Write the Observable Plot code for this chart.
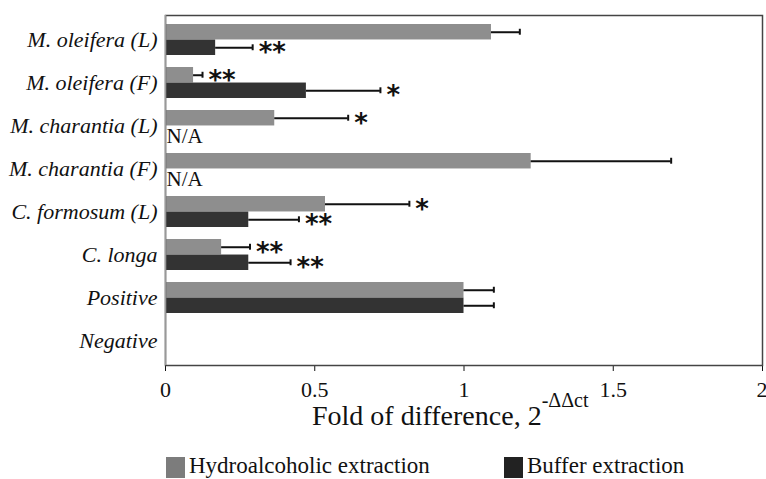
<!DOCTYPE html>
<html>
<head>
<meta charset="utf-8">
<script src="https://cdn.jsdelivr.net/npm/d3@7"></script>
<script src="https://cdn.jsdelivr.net/npm/@observablehq/plot@0.6"></script>
<style>
  html, body { margin: 0; padding: 0; background: #fff; }
  #chart svg { display: block; }
  [aria-label^="y-axis"] text { font-style: italic; font-size: 22px; fill: #111; }
  [aria-label^="x-axis"] text { font-size: 22px; fill: #111; }
  #legend { position: relative; height: 39px; width: 766px; font-family: "Liberation Serif", "Times New Roman", serif; font-size: 23px; line-height: 23px; color: #111; }
  .sw { position: absolute; top: 17px; width: 19px; height: 21px; }
  .lt { position: absolute; top: 14px; white-space: nowrap; }
</style>
</head>
<body>
<div id="chart"></div>
<div id="legend">
  <div class="sw" style="left:166px;background:#7c7c7c"></div><span class="lt" style="left:189px">Hydroalcoholic extraction</span>
  <div class="sw" style="left:504px;background:#222"></div><span class="lt" style="left:527px">Buffer extraction</span>
</div>
<script>
const categories = ["M. oleifera (L)", "M. oleifera (F)", "M. charantia (L)", "M. charantia (F)", "C. formosum (L)", "C. longa", "Positive", "Negative"];
const hydro     = [1.092, 0.094, 0.366, 1.225, 0.536, 0.188, 1.0, 0];
const hydroErr  = [0.095, 0.030, 0.246, 0.469, 0.281, 0.095, 0.10, null];
const buffer    = [0.168, 0.472, null, null, 0.279, 0.279, 1.0, 0];
const bufferErr = [0.124, 0.248, null, null, 0.168, 0.140, 0.10, null];
const hydroSig  = ["", "**", "*", "", "*", "**", "", ""];
const bufferSig = ["**", "*", "", "", "**", "**", "", ""];
const xTicks = [0, 0.5, 1, 1.5, 2];

const rows = categories.map((c, i) => ({
  cat: c, hydro: hydro[i], hydroErr: hydroErr[i], buffer: buffer[i], bufferErr: bufferErr[i],
  hydroSig: hydroSig[i], bufferSig: bufferSig[i]
}));

const W = 766, H = 440, mt = 15, mb = 75, ml = 165, mr = 4;
const pin = 0.29;
const step = (H - mt - mb) / categories.length;
const half = step * (1 - pin) / 2;
const q = half / 2;

const hErr = rows.filter(d => d.hydroErr != null);
const bErr = rows.filter(d => d.bufferErr != null);
const serif = "Liberation Serif";

const chart = Plot.plot({
  width: W, height: H,
  marginTop: mt, marginBottom: mb, marginLeft: ml, marginRight: mr,
  style: { fontFamily: "'Liberation Serif', 'Times New Roman', serif", fontSize: "22px", color: "#111", background: "#fff" },
  x: { domain: [0, 2], ticks: xTicks, tickFormat: d => String(d), tickSize: 6, tickPadding: 10, label: null },
  y: { domain: categories, paddingInner: pin, paddingOuter: pin / 2, tickSize: 0, tickPadding: 8, label: null },
  marks: [
    Plot.barX(rows, { y: "cat", x: "hydro", fill: "#8e8e8e", insetBottom: half }),
    Plot.barX(rows.filter(d => d.buffer != null), { y: "cat", x: "buffer", fill: "#333333", insetTop: half }),
    Plot.ruleY(hErr, { y: "cat", x1: "hydro", x2: d => d.hydro + d.hydroErr, dy: -q, stroke: "#111", strokeWidth: 2 }),
    Plot.ruleY(bErr, { y: "cat", x1: "buffer", x2: d => d.buffer + d.bufferErr, dy: q, stroke: "#111", strokeWidth: 2 }),
    Plot.tickX(hErr, { y: "cat", x: d => d.hydro + d.hydroErr, insetTop: q - 3, insetBottom: 3 * q - 3, stroke: "#111", strokeWidth: 2 }),
    Plot.tickX(bErr, { y: "cat", x: d => d.buffer + d.bufferErr, insetTop: 3 * q - 3, insetBottom: q - 3, stroke: "#111", strokeWidth: 2 }),
    Plot.text(hErr.filter(d => d.hydroSig), { y: "cat", x: d => d.hydro + d.hydroErr, text: "hydroSig", dx: 6, dy: -q + 5, textAnchor: "start", fontSize: 26, fontWeight: "bold", fontFamily: "DejaVu Sans", fill: "#111" }),
    Plot.text(bErr.filter(d => d.bufferSig), { y: "cat", x: d => d.buffer + d.bufferErr, text: "bufferSig", dx: 6, dy: q + 5, textAnchor: "start", fontSize: 26, fontWeight: "bold", fontFamily: "DejaVu Sans", fill: "#111" }),
    Plot.text(rows.filter(d => d.buffer == null), { y: "cat", x: 0, text: () => "N/A", dx: 1, dy: q + 2, textAnchor: "start", fontSize: 21, fontFamily: serif, fill: "#111" }),
    Plot.frame({ stroke: "#444", strokeWidth: 1.5 }),
    Plot.ruleX([0], { stroke: "#999", strokeWidth: 1.5 })
  ]
});

document.getElementById("chart").appendChild(chart);

const svg = d3.select(chart);
// keep the last x tick label inside the picture
const xLabels = svg.selectAll('[aria-label^="x-axis"] text').nodes();
if (xLabels.length) d3.select(xLabels[xLabels.length - 1]).attr("text-anchor", "end").attr("dx", 5);

// x-axis title with superscript
const t = svg.append("text")
  .attr("x", 312).attr("y", 425)
  .attr("text-anchor", "start")
  .attr("font-family", serif)
  .attr("font-size", 28)
  .attr("fill", "#111");
t.append("tspan").text("Fold of difference, 2");
t.append("tspan").attr("dy", -18).attr("font-size", 20).text("-ΔΔct");
</script>
</body>
</html>
